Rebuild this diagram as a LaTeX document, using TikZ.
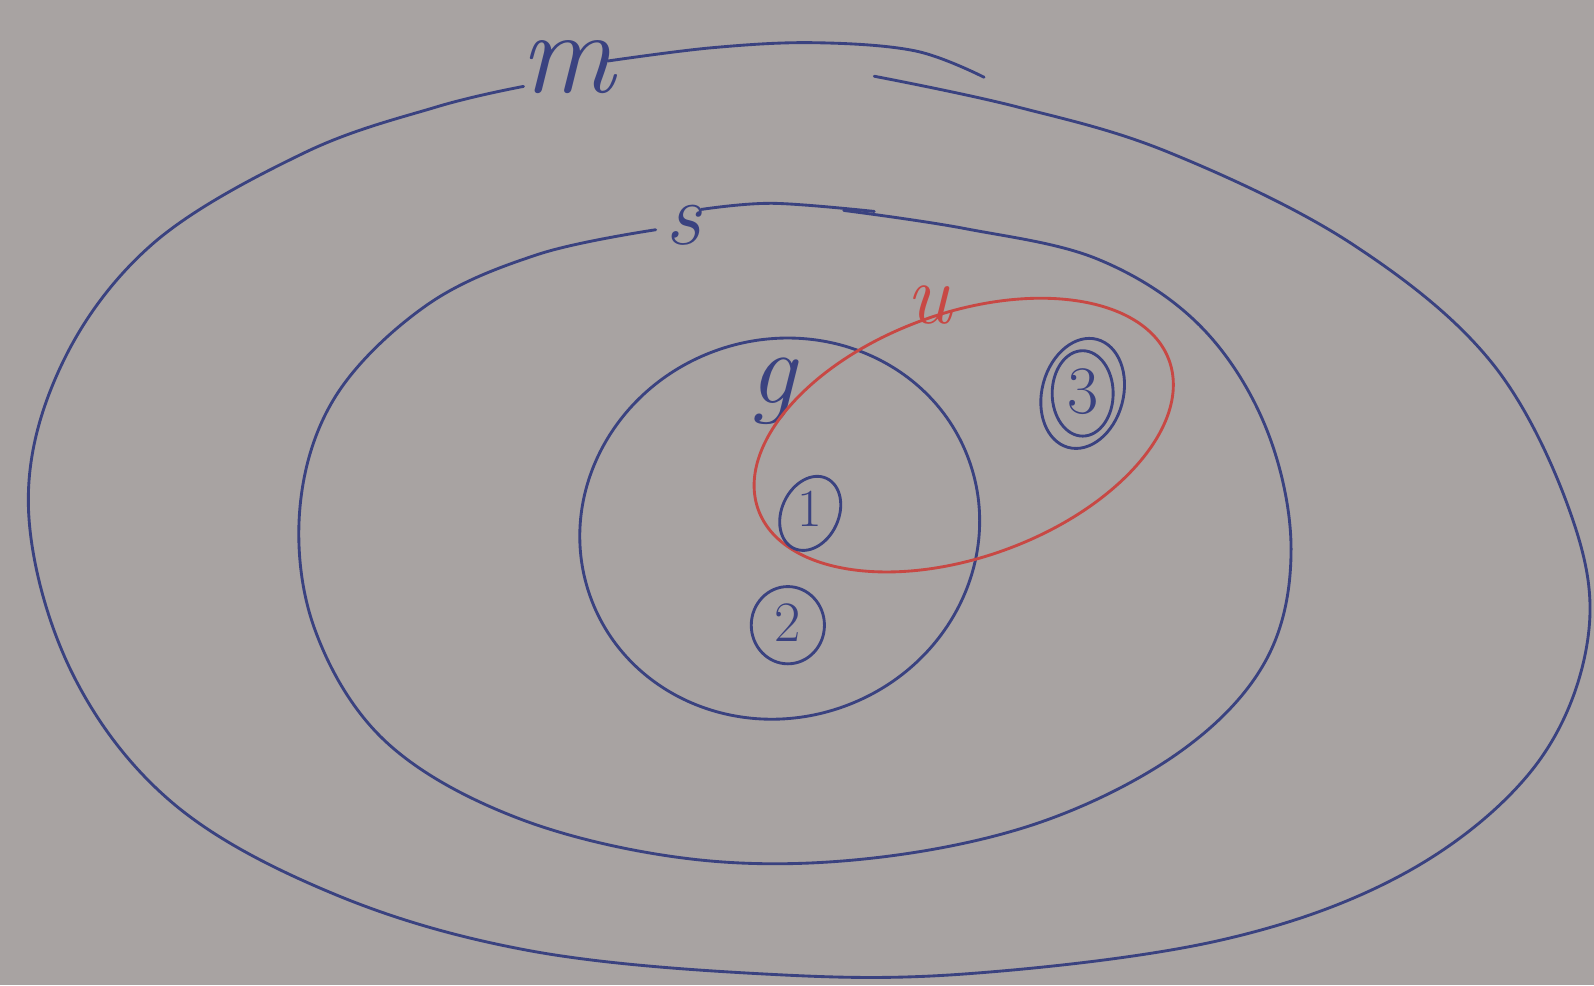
\documentclass[tikz,border=0pt]{standalone}
\usepackage{fontspec}
\definecolor{inkblue}{RGB}{58,66,128}
\definecolor{inkred}{RGB}{200,72,68}
\definecolor{paper}{RGB}{168,163,162}
\begin{document}
\begin{tikzpicture}[x=0.02cm,y=-0.02cm,
  ink/.style={draw=inkblue, line width=1.6pt, line cap=round, line join=round},
  redink/.style={draw=inkred, line width=1.6pt, line cap=round},
  lbl/.style={text=inkblue, font=\itshape, inner sep=0pt},
  num/.style={text=inkblue, inner sep=0pt}]
\fill[paper] (0,0) rectangle (1568,969);
\useasboundingbox (0,0) rectangle (1568,969);
% outer set m
\draw[ink] plot[smooth, tension=0.6] coordinates {(860,75) (1000,105) (1150,150) (1330,240) (1470,360) (1550,520) (1560,640) (1505,760) (1380,860) (1200,925) (950,958) (750,958) (520,935) (330,880) (170,790) (70,660) (28,500) (60,360) (150,240) (300,150) (430,105) (515,85)};
\draw[ink] plot[smooth, tension=0.6] coordinates {(598,60) (700,47) (800,42) (900,50) (968,76)};
\node[lbl, font=\itshape\fontsize{66}{66}\selectfont] (m) at (558,66) {m};
% set s
\draw[ink] plot[smooth, tension=0.6] coordinates {(830,207) (950,225) (1080,255) (1180,320) (1245,420) (1270,540) (1245,650) (1160,740) (1020,810) (850,845) (680,845) (510,805) (380,730) (310,620) (295,500) (330,390) (420,300) (530,250) (645,226)};
\draw[ink] plot[smooth, tension=0.6] coordinates {(690,206) (760,200) (860,208)};
\node[lbl, font=\itshape\fontsize{50}{50}\selectfont] (s) at (672,222) {s};
% set g
\draw[ink, rotate around={20:(767,520)}] (767,520) ellipse [x radius=198, y radius=186];
\node[lbl, font=\itshape\fontsize{58}{58}\selectfont] (g) at (760,385) {g};
% set u
\draw[redink, rotate around={20:(948,428)}] (948,428) ellipse [x radius=215, y radius=120];
\node[lbl, text=inkred, font=\itshape\fontsize{48}{48}\selectfont] (u) at (914,300) {u};
% elements
\node[num, font=\fontsize{30}{30}\selectfont] (e1) at (797,500) {1};
\draw[ink, rotate around={-25:(797,505)}] (797,505) ellipse [x radius=28, y radius=38];
\node[num, font=\fontsize{32}{32}\selectfont] (e2) at (775,612) {2};
\draw[ink] (775,615) ellipse [x radius=36, y radius=38];
\node[num, font=\fontsize{38}{38}\selectfont] (e3) at (1065,385) {3};
\draw[ink, rotate around={-15:(1065,387)}] (1065,387) ellipse [x radius=40, y radius=55];
\draw[ink] (1065,387) ellipse [x radius=30, y radius=42];
\end{tikzpicture}
\end{document}
